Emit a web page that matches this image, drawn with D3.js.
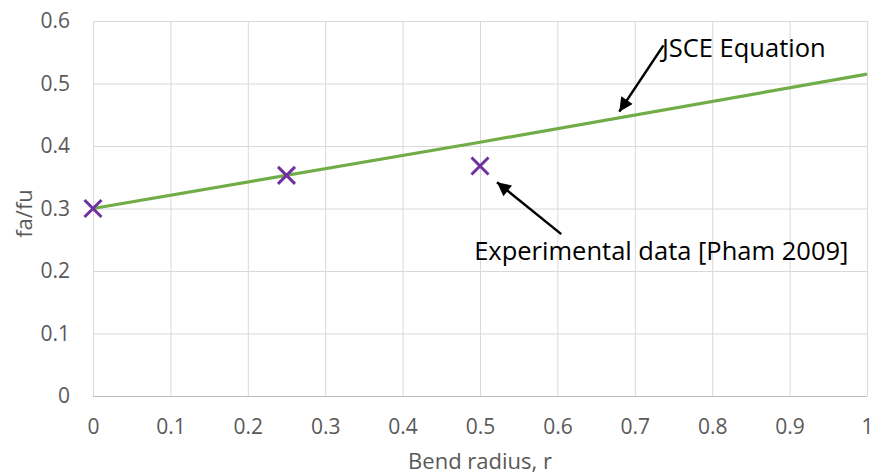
<!DOCTYPE html>
<html>
<head>
<meta charset="utf-8">
<script src="https://cdn.jsdelivr.net/npm/d3@7"></script>
<style>
  html, body { margin: 0; padding: 0; background: #fff; }
  svg { display: block; }
</style>
</head>
<body>
<svg id="chart" width="875" height="475"></svg>
<script>
// ---- Data ----
const lineR = [0, 0.5, 1];
const lineFaFu = [0.30, 0.406, 0.515];
const expR = [0, 0.25, 0.5];
const expFaFu = [0.30, 0.353, 0.368];
const xTicks = [0, 0.1, 0.2, 0.3, 0.4, 0.5, 0.6, 0.7, 0.8, 0.9, 1];
const yTicks = [0, 0.1, 0.2, 0.3, 0.4, 0.5, 0.6];
const xLabel = "Bend radius, r";
const yLabel = "fa/fu";
const annotTexts = ["JSCE Equation", "Experimental data [Pham 2009]"];
// annotation anchor points in data units: text start, arrow tail, arrow tip
const annotTextPos = [[0.735, 0.542], [0.4925, 0.217]];
const annotArrowFrom = [[0.737, 0.561], [0.605, 0.259]];
const annotArrowTo = [[0.680, 0.455], [0.522, 0.342]];

// ---- Layout ----
const W = 875, H = 475;
const margin = { top: 21, right: 8, bottom: 79, left: 93 };
const svg = d3.select("#chart");
const g = svg.append("g").attr("transform", `translate(${margin.left},${margin.top})`);
const iw = W - margin.left - margin.right;
const ih = H - margin.top - margin.bottom;

const x = d3.scaleLinear().domain([0, 1]).range([0, iw]);
const y = d3.scaleLinear().domain([0, 0.6]).range([ih, 0]);

const font = "'Open Sans', sans-serif";
const tickColor = "#595959";
const gridColor = "#d9d9d9";

// Gridlines
g.append("g").selectAll("line.v").data(xTicks).join("line")
  .attr("x1", d => x(d) + 0.5).attr("x2", d => x(d) + 0.5)
  .attr("y1", 0).attr("y2", ih)
  .attr("stroke", gridColor).attr("stroke-width", 1);
g.append("g").selectAll("line.h").data(yTicks).join("line")
  .attr("x1", 0).attr("x2", iw)
  .attr("y1", d => y(d) + 0.5).attr("y2", d => y(d) + 0.5)
  .attr("stroke", gridColor).attr("stroke-width", 1);

// Axes (labels only)
const xAxis = g.append("g").attr("transform", `translate(0,${ih})`)
  .call(d3.axisBottom(x).tickValues(xTicks).tickSize(0).tickPadding(23).tickFormat(d3.format("")));
const yAxis = g.append("g")
  .call(d3.axisLeft(y).tickValues(yTicks).tickSize(0).tickPadding(23).tickFormat(d3.format("")));
[xAxis, yAxis].forEach(a => {
  a.select(".domain").remove();
  a.selectAll("text").attr("fill", tickColor).style("font-family", font).style("font-size", "21px");
});
// bottom axis line
g.append("line").attr("x1", 0).attr("x2", iw).attr("y1", ih + 0.5).attr("y2", ih + 0.5)
  .attr("stroke", "#bfbfbf").attr("stroke-width", 1);

// Axis titles
svg.append("text").attr("x", margin.left + iw / 2).attr("y", 468.5)
  .attr("text-anchor", "middle").attr("fill", tickColor)
  .style("font-family", font).style("font-size", "22px").text(xLabel);
svg.append("text").attr("transform", `translate(31.5,${margin.top + ih / 2 + 5}) rotate(-90)`)
  .attr("text-anchor", "middle").attr("fill", tickColor)
  .style("font-family", font).style("font-size", "22px").text(yLabel);

// JSCE line
const lineData = lineR.map((r, i) => [r, lineFaFu[i]]);
g.append("path").datum(lineData)
  .attr("d", d3.line().x(d => x(d[0])).y(d => y(d[1])))
  .attr("fill", "none").attr("stroke", "#70ad47").attr("stroke-width", 3.2);

// Experimental markers (X)
const ms = 8.5;
const expData = expR.map((r, i) => [r, expFaFu[i]]);
g.append("g").selectAll("path").data(expData).join("path")
  .attr("transform", d => `translate(${x(d[0])},${y(d[1])})`)
  .attr("d", `M${-ms},${-ms}L${ms},${ms}M${-ms},${ms}L${ms},${-ms}`)
  .attr("stroke", "#7030a0").attr("stroke-width", 3).attr("fill", "none");

// Arrowhead marker
svg.append("defs").append("marker")
  .attr("id", "arrow").attr("viewBox", "0 0 10 10")
  .attr("refX", 10).attr("refY", 5)
  .attr("markerWidth", 6.5).attr("markerHeight", 5.5)
  .attr("markerUnits", "strokeWidth")
  .attr("orient", "auto")
  .append("path").attr("d", "M0,0L10,5L0,10Z").attr("fill", "#000");

// Annotations
annotTexts.forEach((t, i) => {
  g.append("line")
    .attr("x1", x(annotArrowFrom[i][0])).attr("y1", y(annotArrowFrom[i][1]))
    .attr("x2", x(annotArrowTo[i][0])).attr("y2", y(annotArrowTo[i][1]))
    .attr("stroke", "#000").attr("stroke-width", 2.5)
    .attr("marker-end", "url(#arrow)");
  g.append("text")
    .attr("x", x(annotTextPos[i][0])).attr("y", y(annotTextPos[i][1]))
    .attr("fill", "#000").style("font-family", font).style("font-size", "25.5px")
    .text(t);
});
</script>
</body>
</html>
